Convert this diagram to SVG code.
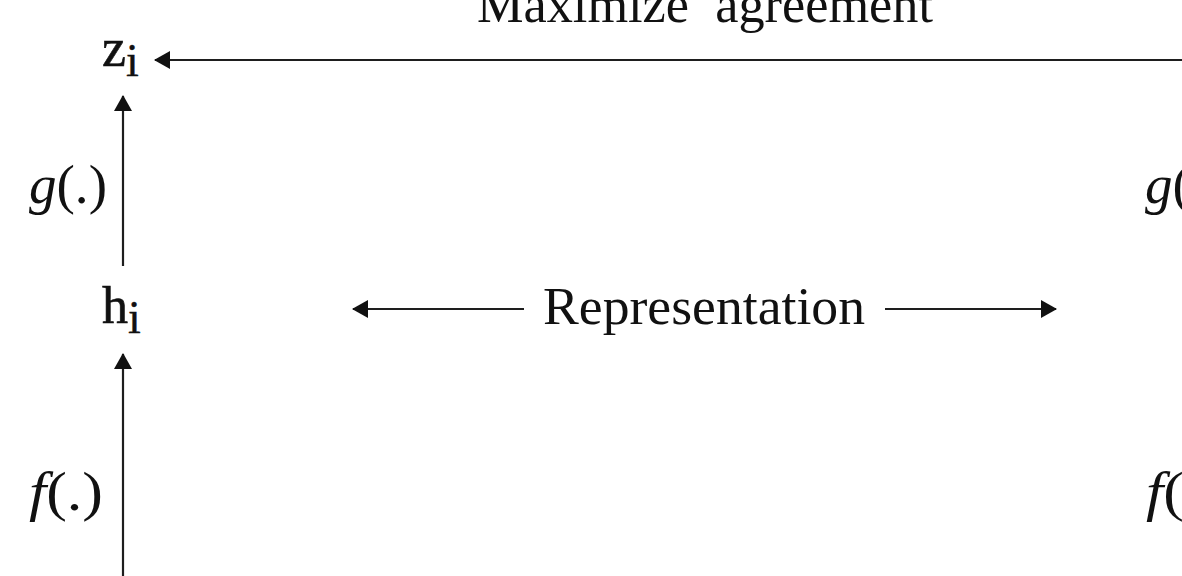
<svg xmlns="http://www.w3.org/2000/svg" width="1182" height="576" viewBox="0 0 1182 576">
  <style>
    .t { font-family: "Liberation Serif", "DejaVu Serif", serif; fill: #111; }
    .it { font-style: italic; }
    .ln { stroke: #1e1e1e; stroke-width: 2.2; fill: none; }
  </style>
  <defs>
    <marker id="ah" viewBox="0 0 16 18" refX="15" refY="9" markerWidth="16" markerHeight="18" markerUnits="userSpaceOnUse" orient="auto">
      <path d="M0,0 L16,9 L0,18 Z" fill="#111"/>
    </marker>
  </defs>
  <rect width="1182" height="576" fill="#fff"/>

  <g id="connectors">
    <line class="ln" x1="1182" y1="60" x2="155" y2="60" marker-end="url(#ah)"/>
    <line class="ln" x1="123" y1="266" x2="123" y2="96" marker-end="url(#ah)"/>
    <line class="ln" x1="123" y1="576" x2="123" y2="354" marker-end="url(#ah)"/>
    <line class="ln" x1="524" y1="309" x2="353" y2="309" marker-end="url(#ah)"/>
    <line class="ln" x1="885" y1="309" x2="1056" y2="309" marker-end="url(#ah)"/>
  </g>

  <g id="title">
    <text class="t" x="477" y="22" font-size="52" textLength="456" lengthAdjust="spacingAndGlyphs" xml:space="preserve">Maximize  agreement</text>
  </g>

  <g id="node-zi">
    <text class="t" x="102" y="66" font-size="54" stroke="#111" stroke-width="0.6">z<tspan dy="10" font-size="46" stroke-width="0.4">i</tspan></text>
  </g>

  <g id="node-hi">
    <text class="t" x="102" y="323" font-size="52" stroke="#111" stroke-width="0.6">h<tspan dy="10" font-size="46" stroke-width="0.4">i</tspan></text>
  </g>

  <g id="label-g-left">
    <text class="t" x="29" y="203" font-size="54" textLength="78" lengthAdjust="spacingAndGlyphs"><tspan class="it">g</tspan>(.)</text>
  </g>

  <g id="label-f-left">
    <text class="t" x="29" y="510" font-size="54" textLength="74" lengthAdjust="spacingAndGlyphs"><tspan class="it">f</tspan>(.)</text>
  </g>

  <g id="label-representation">
    <text class="t" x="543" y="324" font-size="52" textLength="322" lengthAdjust="spacingAndGlyphs">Representation</text>
  </g>

  <g id="label-g-right">
    <text class="t" x="1145" y="203" font-size="54" textLength="78" lengthAdjust="spacingAndGlyphs"><tspan class="it">g</tspan>(.)</text>
  </g>

  <g id="label-f-right">
    <text class="t" x="1146" y="510" font-size="54" textLength="74" lengthAdjust="spacingAndGlyphs"><tspan class="it">f</tspan>(.)</text>
  </g>
</svg>
